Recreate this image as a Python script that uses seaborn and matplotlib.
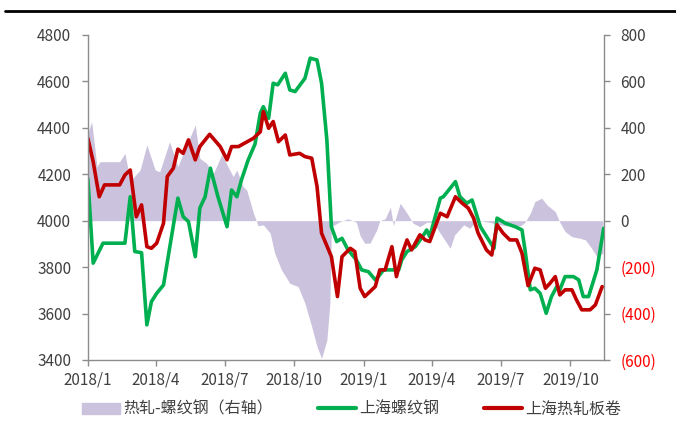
import pandas as pd
import matplotlib.pyplot as plt
import matplotlib.lines as mlines
import matplotlib.patches as mpatches
import seaborn as sns

# 上海螺纹钢 (left axis)
rebar_dates = [
    "2018-01-01", "2018-01-08", "2018-01-21", "2018-02-19", "2018-02-26", "2018-03-04",
    "2018-03-13", "2018-03-20", "2018-03-26", "2018-04-02", "2018-04-11", "2018-04-30",
    "2018-05-07", "2018-05-14", "2018-05-23", "2018-05-29", "2018-06-05", "2018-06-12",
    "2018-06-22", "2018-07-04", "2018-07-10", "2018-07-17", "2018-07-23", "2018-08-01",
    "2018-08-10", "2018-08-17", "2018-08-21", "2018-08-28", "2018-09-03", "2018-09-09",
    "2018-09-19", "2018-09-25", "2018-10-02", "2018-10-15", "2018-10-22", "2018-10-31",
    "2018-11-06", "2018-11-13", "2018-11-19", "2018-11-26", "2018-12-03", "2018-12-11",
    "2018-12-22", "2018-12-29", "2019-01-07", "2019-01-16", "2019-01-20", "2019-01-27",
    "2019-02-16", "2019-02-20", "2019-02-27", "2019-03-10", "2019-03-21", "2019-03-25",
    "2019-03-29", "2019-04-12", "2019-04-16", "2019-05-02", "2019-05-08", "2019-05-17",
    "2019-05-24", "2019-06-04", "2019-06-15", "2019-06-22", "2019-06-26", "2019-07-07",
    "2019-07-20", "2019-07-29", "2019-08-02", "2019-08-09", "2019-08-15", "2019-08-22",
    "2019-08-30", "2019-09-06", "2019-09-13", "2019-09-17", "2019-09-24", "2019-10-05",
    "2019-10-12", "2019-10-18", "2019-10-25", "2019-11-05", "2019-11-14",
]
rebar = [
    4180, 3817, 3903, 3903, 4103, 3867,
    3862, 3551, 3651, 3687, 3723, 4097,
    4017, 3996, 3845, 4054, 4103, 4226,
    4103, 3974, 4132, 4103, 4175, 4262,
    4330, 4463, 4491, 4441, 4592, 4585,
    4635, 4563, 4556, 4613, 4700, 4692,
    4592, 4348, 3974, 3910, 3924, 3874,
    3831, 3788, 3780, 3745, 3759, 3788,
    3788, 3831, 3867, 3888, 3939, 3960,
    3931, 4097, 4103, 4168, 4103, 4075,
    4089, 3974, 3917, 3881, 4011, 3989,
    3974, 3960, 3874, 3702, 3709, 3687,
    3601, 3673, 3716, 3702, 3759, 3759,
    3745, 3673, 3673, 3788, 3967,
]

# 上海热轧板卷 (left axis)
hrc_dates = [
    "2018-01-01", "2018-01-08", "2018-01-16", "2018-01-23", "2018-02-12", "2018-02-19",
    "2018-02-26", "2018-03-06", "2018-03-13", "2018-03-20", "2018-03-26", "2018-04-02",
    "2018-04-11", "2018-04-16", "2018-04-24", "2018-04-30", "2018-05-07", "2018-05-14",
    "2018-05-23", "2018-05-29", "2018-06-11", "2018-06-25", "2018-07-04", "2018-07-10",
    "2018-07-19", "2018-08-08", "2018-08-17", "2018-08-21", "2018-08-28", "2018-09-03",
    "2018-09-10", "2018-09-19", "2018-09-25", "2018-10-08", "2018-10-15", "2018-10-24",
    "2018-10-31", "2018-11-06", "2018-11-19", "2018-11-27", "2018-12-03", "2018-12-14",
    "2018-12-20", "2018-12-27", "2019-01-02", "2019-01-16", "2019-01-22", "2019-01-29",
    "2019-02-07", "2019-02-13", "2019-02-20", "2019-02-27", "2019-03-05", "2019-03-16",
    "2019-03-23", "2019-03-29", "2019-04-12", "2019-04-21", "2019-05-02", "2019-05-11",
    "2019-05-19", "2019-05-26", "2019-06-01", "2019-06-12", "2019-06-19", "2019-06-26",
    "2019-07-04", "2019-07-13", "2019-07-22", "2019-07-29", "2019-08-06", "2019-08-15",
    "2019-08-22", "2019-08-29", "2019-09-04", "2019-09-11", "2019-09-17", "2019-09-24",
    "2019-10-03", "2019-10-09", "2019-10-16", "2019-10-27", "2019-11-03", "2019-11-12",
]
hrc = [
    4355, 4254, 4103, 4154, 4154, 4197,
    4218, 4017, 4068, 3888, 3881, 3903,
    3989, 4190, 4226, 4308, 4290, 4348,
    4262, 4319, 4372, 4319, 4262, 4319,
    4319, 4355, 4383, 4470, 4398, 4427,
    4340, 4369, 4283, 4290, 4276, 4269,
    4147, 3946, 3845, 3673, 3845, 3881,
    3867, 3709, 3673, 3716, 3788, 3788,
    3888, 3759, 3852, 3917, 3874, 3939,
    3917, 3910, 4032, 4017, 4103, 4075,
    4054, 4011, 3946, 3874, 3852, 3982,
    3946, 3917, 3917, 3860, 3720, 3795,
    3788, 3709, 3730, 3759, 3680, 3702,
    3702, 3659, 3616, 3616, 3637, 3716,
]

# 热轧-螺纹钢 spread (right axis)
spread_dates = [
    "2018-01-01", "2018-01-06", "2018-01-13", "2018-01-17", "2018-02-12", "2018-02-19",
    "2018-02-26", "2018-03-11", "2018-03-20", "2018-03-31", "2018-04-06", "2018-04-19",
    "2018-04-30", "2018-05-07", "2018-05-23", "2018-05-29", "2018-06-07", "2018-06-16",
    "2018-06-27", "2018-07-12", "2018-07-17", "2018-07-25", "2018-07-30", "2018-08-08",
    "2018-08-14", "2018-08-21", "2018-08-30", "2018-09-05", "2018-09-14", "2018-09-25",
    "2018-10-06", "2018-10-15", "2018-10-24", "2018-10-31", "2018-11-06", "2018-11-13",
    "2018-11-17", "2018-11-19", "2018-11-30", "2018-12-11", "2018-12-22", "2018-12-27",
    "2019-01-02", "2019-01-09", "2019-01-18", "2019-01-22", "2019-01-29", "2019-02-05",
    "2019-02-09", "2019-02-18", "2019-02-27", "2019-03-07", "2019-03-16", "2019-03-25",
    "2019-04-03", "2019-04-09", "2019-04-25", "2019-05-01", "2019-05-13", "2019-05-21",
    "2019-05-28", "2019-06-04", "2019-06-20", "2019-07-07", "2019-07-27", "2019-08-02",
    "2019-08-09", "2019-08-15", "2019-08-24", "2019-08-31", "2019-09-11", "2019-09-17",
    "2019-09-24", "2019-10-03", "2019-10-14", "2019-10-21", "2019-10-29", "2019-11-05",
    "2019-11-13",
]
spread = [
    377, 427, 233, 254, 254, 290,
    170, 218, 326, 218, 211, 340,
    233, 290, 412, 269, 247, 204,
    285, 190, 218, 147, 132, 32,
    -22, -18, -54, -140, -212, -270,
    -284, -356, -457, -543, -593, -514,
    -356, -26, -5, 8, -7, -65,
    -97, -97, -40, 0, 8, 58,
    -22, 75, 32, -11, -26, -7,
    -7, -40, -119, -61, -18, -33,
    -7, 0, -10, -22, -22, -7,
    32, 82, 97, 68, 39, -7,
    -47, -69, -76, -83, -119, -155,
    -140,
]

tick_dates = ["2018-01-01", "2018-04-01", "2018-07-01", "2018-10-01",
              "2019-01-01", "2019-04-01", "2019-07-01", "2019-10-01"]
tick_labels = ["2018/1", "2018/4", "2018/7", "2018/10",
               "2019/1", "2019/4", "2019/7", "2019/10"]

sns.set_theme(style="white")
plt.rcParams["font.family"] = ["Noto Sans CJK SC", "DejaVu Sans"]

green = "#00b050"
red = "#c00000"
purple = "#cbc3dd"
axis_grey = "#8c8c8c"
text_grey = "#404040"

fig = plt.figure(figsize=(6.76, 4.21), dpi=100)
ax = fig.add_axes([0.130, 0.145, 0.763, 0.772])
ax2 = ax.twinx()

# spread area on the right axis, drawn behind the lines
sd = pd.to_datetime(spread_dates)
ax2.fill_between(sd, spread, 0, color=purple, lw=0)

df_rebar = pd.DataFrame({"date": pd.to_datetime(rebar_dates), "price": rebar})
df_hrc = pd.DataFrame({"date": pd.to_datetime(hrc_dates), "price": hrc})
sns.lineplot(data=df_rebar, x="date", y="price", ax=ax, color=green, lw=2.6)
sns.lineplot(data=df_hrc, x="date", y="price", ax=ax, color=red, lw=2.6)

ax.set_zorder(ax2.get_zorder() + 1)
ax.patch.set_visible(False)

xmin, xmax = pd.Timestamp("2018-01-01"), pd.Timestamp("2019-11-14")
ax.set_xlim(xmin, xmax)
ax.set_ylim(3400, 4800)
ax2.set_ylim(-600, 800)

ax.set_xticks(pd.to_datetime(tick_dates))
ax.set_xticklabels(tick_labels)
ax.set_yticks(range(3400, 4801, 200))
ax.set_xlabel("")
ax.set_ylabel("")

right_ticks = list(range(-600, 801, 200))
ax2.set_yticks(right_ticks)
ax2.set_yticklabels([f"({abs(v)})" if v < 0 else f"{v}" for v in right_ticks])

for a in (ax, ax2):
    for s in a.spines.values():
        s.set_visible(False)
    a.tick_params(colors=axis_grey, labelcolor=text_grey, labelsize=11,
                  length=4, width=1)
for lab, v in zip(ax2.get_yticklabels(), right_ticks):
    lab.set_color("#ff0000" if v < 0 else text_grey)

ax.spines["left"].set_visible(True)
ax.spines["bottom"].set_visible(True)
ax2.spines["right"].set_visible(True)
for s in (ax.spines["left"], ax.spines["bottom"], ax2.spines["right"]):
    s.set_color(axis_grey)
    s.set_linewidth(1)
ax.tick_params(axis="x", bottom=True, direction="out", pad=4)
ax.tick_params(axis="y", left=True, direction="out", pad=8)
ax2.tick_params(axis="y", right=True, direction="out", pad=8)

# black rule across the top
fig.add_artist(mlines.Line2D([0.007, 1.0], [0.974, 0.974], color="black", lw=2))

handles = [
    mpatches.Patch(color=purple, label="热轧-螺纹钢（右轴）"),
    mlines.Line2D([], [], color=green, lw=3, label="上海螺纹钢"),
    mlines.Line2D([], [], color=red, lw=3, label="上海热轧板卷"),
]
fig.legend(handles=handles, loc="center", bbox_to_anchor=(0.52, 0.028), ncol=3,
           frameon=False, fontsize=11.5, handlelength=2.4, handletextpad=0.2,
           columnspacing=2.8, labelcolor=text_grey)

fig.savefig("out.png", dpi=100)
